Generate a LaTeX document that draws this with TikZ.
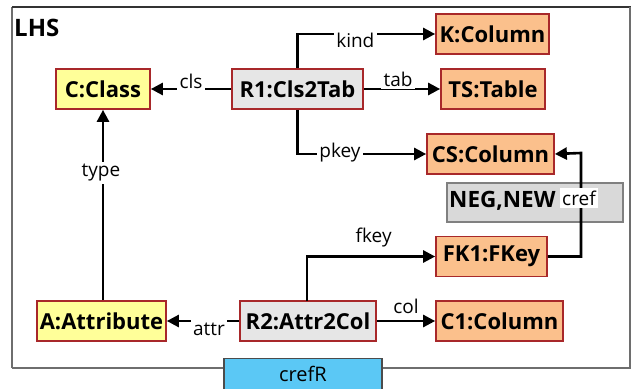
\documentclass[tikz,border=0pt]{standalone}
\usepackage{fontspec}
\setmainfont{Open Sans}
\usetikzlibrary{arrows.meta}
\definecolor{boxred}{HTML}{A8282A}
\definecolor{clsyellow}{HTML}{FFFF99}
\definecolor{tabpeach}{HTML}{FBC08C}
\definecolor{rulegray}{HTML}{E6E6E6}
\definecolor{neggray}{HTML}{D9D9D9}
\definecolor{negedge}{HTML}{808080}
\definecolor{refblue}{HTML}{5BC8F5}
\definecolor{framegray}{HTML}{6E6E6E}
\tikzset{
  obj/.style={draw=boxred, line width=1.7pt, inner sep=0pt, minimum height=40pt,
    font=\fontsize{22}{24}\selectfont\bfseries},
  cls/.style={obj, fill=clsyellow},
  tbl/.style={obj, fill=tabpeach},
  rul/.style={obj, fill=rulegray},
  link/.style={line width=2.6pt, -{Triangle[length=12pt,width=12pt]}},
  lbl/.style={font=\fontsize{19}{20}\selectfont, fill=white, inner sep=2.5pt},
  lblnf/.style={font=\fontsize{19}{20}\selectfont, inner sep=1pt},
}
\begin{document}
\begin{tikzpicture}[x=1pt, y=-1pt]
\clip (0,0) rectangle (631,388);
\fill[white] (0,0) rectangle (631,388);
% pattern frame
\draw[framegray, line width=1.6pt] (12,368) -- (12,7);
\draw[black!80, line width=1.8pt] (12,7) -- (631,7);
\draw[framegray, line width=2pt] (12,368) -- (630,368) -- (630,7);
\node[font=\fontsize{24}{26}\selectfont\bfseries, anchor=west, inner sep=0pt] (lhs) at (14,28) {LHS};

% NEG,NEW application condition
\node[draw=negedge, fill=neggray, line width=1.6pt, minimum width=176pt, minimum height=39pt, inner sep=0pt] (neg) at (535,202.5) {};
\node[font=\fontsize{22.5}{24}\selectfont\bfseries, anchor=west, inner sep=0pt] (negtxt) at (449,201) {NEG,NEW};

% objects
\node[cls, minimum width=94pt]  (c)   at (103,89)    {C:Class};
\node[rul, minimum width=131pt] (r1)  at (297.5,89)  {R1:Cls2Tab};
\node[tbl, minimum width=113pt] (k)   at (492.5,34)  {K:Column};
\node[tbl, minimum width=104pt] (ts)  at (493,89)    {TS:Table};
\node[tbl, minimum width=127pt] (cs)  at (490.5,154) {CS:Column};
\node[tbl, minimum width=111pt] (fk1) at (491.5,256.5) {FK1:FKey};
\node[tbl, minimum width=127pt] (c1)  at (499.5,321) {C1:Column};
\node[rul, minimum width=136pt] (r2)  at (308,321)   {R2:Attr2Col};
\node[cls, minimum width=129pt] (a)   at (101.5,321) {A:Attribute};

% links of R1
\draw[link] (r1.west) -- node[lbl, yshift=8pt] {cls} (c.east);
\draw[link] (r1.east) -- node[lbl, yshift=10pt, xshift=-4pt] {tab} (ts.west);
\draw[link] (r1.north) |- node[lbl, pos=0.71, yshift=-6pt] {kind} (k.west);
\draw[link] (r1.south) |- node[lbl, pos=0.665, yshift=1pt] {pkey} (cs.west);

% links of R2
\draw[link] (r2.west) -- node[lbl, yshift=-8pt, xshift=6pt] {attr} (a.east);
\draw[link] (r2.east) -- node[lblnf, above=5pt] {col} (c1.west);
\coordinate (r2t) at (307,301);
\draw[link] (r2t) |- node[lblnf, pos=0.76, above=7pt] {fkey} (fk1.west);

% type link
\draw[link] (c.south |- a.north) -- node[lbl, pos=0.67, xshift=-2pt] {type} (c.south);

% cref link through the NEG,NEW condition
\coordinate (bend1) at (581,256.5);
\coordinate (bend2) at (581,153);
\draw[link] (fk1.east) -- (bend1) -- node[lbl, pos=0.565, xshift=-2pt, inner xsep=2pt, inner ysep=3pt] {cref} (bend2) -- (cs.east);

% crefR tab
\node[draw=black!70, fill=refblue, line width=1.2pt, minimum width=158pt, minimum height=40pt,
  anchor=north, inner sep=0pt] (crefr) at (303,357.5) {};
\node[font=\fontsize{20}{22}\selectfont, inner sep=0pt] (creflbl) at (303,374) {crefR};
\end{tikzpicture}
\end{document}
